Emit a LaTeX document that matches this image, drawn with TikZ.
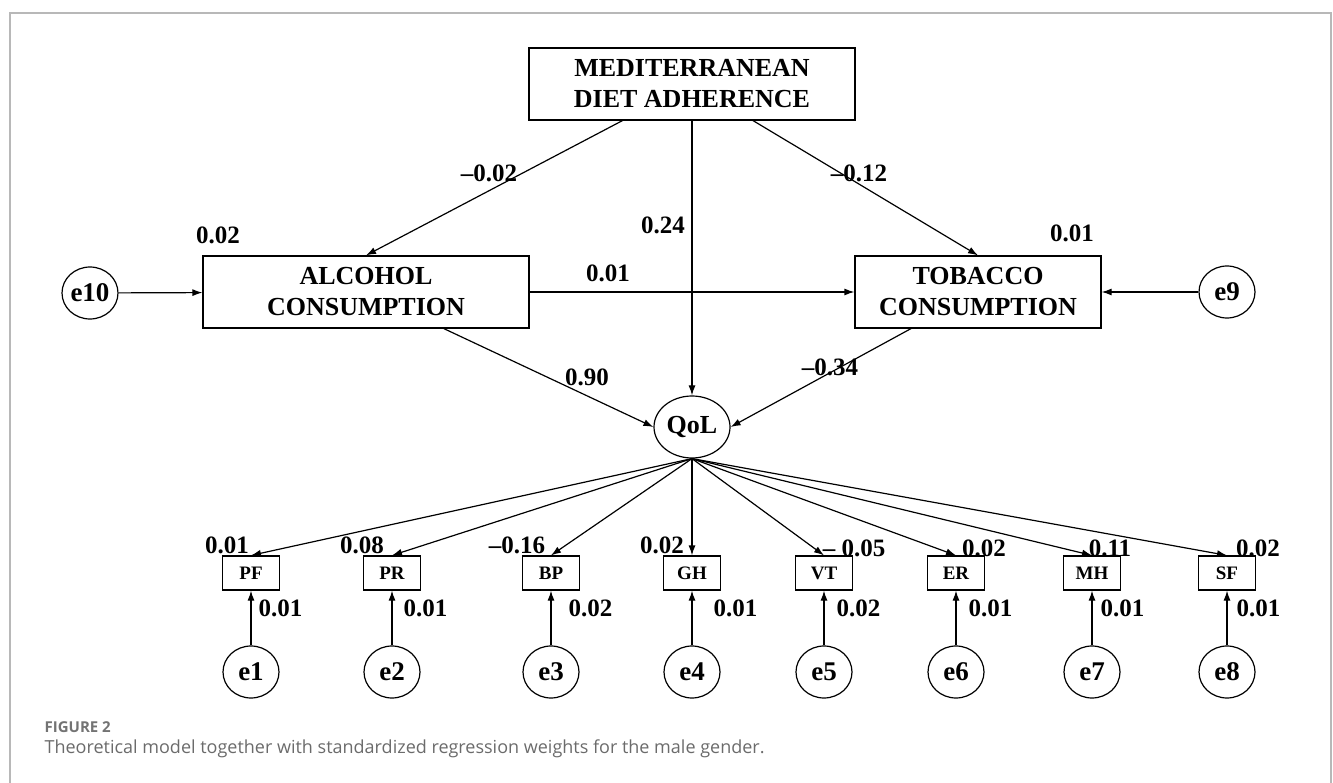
\documentclass[tikz,border=0pt]{standalone}
\usepackage{fontspec}
\setmainfont{Liberation Serif}
\newfontfamily\capfont{Open Sans}
\usetikzlibrary{arrows.meta,shapes.geometric,positioning}

\begin{document}
\begin{tikzpicture}[->,
            >={Latex[length=10pt,width=7pt]},
            x=1pt,y=-1pt,
            line width=1.2pt,
            construct/.style={draw,rectangle,minimum height=72pt,inner sep=0pt,
                              align=center,font=\fontsize{26}{31}\selectfont\bfseries},
            indicator/.style={draw,rectangle,minimum width=57pt,minimum height=34pt,
                              inner sep=0pt,font=\fontsize{19}{19}\selectfont\bfseries},
            latent/.style={draw,ellipse,minimum width=76pt,minimum height=62pt,
                           inner sep=0pt,font=\fontsize{26}{26}\selectfont\bfseries},
            error/.style={draw,ellipse,minimum width=56pt,minimum height=52pt,
                          inner sep=0pt,font=\fontsize{27}{27}\selectfont\bfseries},
            coef/.style={inner sep=0pt,font=\fontsize{25}{25}\selectfont\bfseries}]

        \useasboundingbox (0,0) rectangle (1333,783);
        \draw[-,line width=1.5pt,black!28] (10,783) -- (10,13) -- (1331,13) -- (1331,783);

        % structural part
        \node[construct,minimum width=326pt] (mda)     at (692,84)  {MEDITERRANEAN\\DIET ADHERENCE};
        \node[construct,minimum width=326pt] (alcohol) at (366,292) {ALCOHOL\\CONSUMPTION};
        \node[construct,minimum width=246pt] (tobacco) at (978,292) {TOBACCO\\CONSUMPTION};
        \node[error]                         (e10)     at (90,293)  {e10};
        \node[error]                         (e9)      at (1227,292) {e9};
        \node[latent]                        (qol)     at (692,427) {QoL};

        % measurement part
        \node[indicator] (pf) at (251,573)  {PF};
        \node[indicator] (pr) at (392,573)  {PR};
        \node[indicator] (bp) at (551,573)  {BP};
        \node[indicator] (gh) at (692,573)  {GH};
        \node[indicator] (vt) at (824,573)  {VT};
        \node[indicator] (er) at (956,573)  {ER};
        \node[indicator] (mh) at (1092,573) {MH};
        \node[indicator] (sf) at (1227,573) {SF};

        \node[error] (e1) at (251,672)  {e1};
        \node[error] (e2) at (392,672)  {e2};
        \node[error] (e3) at (551,672)  {e3};
        \node[error] (e4) at (692,672)  {e4};
        \node[error] (e5) at (824,672)  {e5};
        \node[error] (e6) at (956,672)  {e6};
        \node[error] (e7) at (1092,672) {e7};
        \node[error] (e8) at (1227,672) {e8};

        \path (mda)     edge (alcohol.north)
                        edge (tobacco.north)
                        edge (qol.north)
              (alcohol) edge (tobacco)
                        edge (qol.west)
              (tobacco) edge (qol.east)
              (e10)     edge (alcohol)
              (e9)      edge (tobacco)
              (qol.south) edge (pf.north)
                          edge (pr.north)
                          edge (bp.north)
                          edge (gh.north)
                          edge (vt.north)
                          edge (er.north)
                          edge (mh.north)
                          edge (sf.north)
              (e1) edge (pf) (e2) edge (pr) (e3) edge (bp) (e4) edge (gh)
              (e5) edge (vt) (e6) edge (er) (e7) edge (mh) (e8) edge (sf);

        % weights
        \node[coef] (w_ma)  at (489,173)  {–0.02};
        \node[coef] (w_mt)  at (859,173)  {–0.12};
        \node[coef] (w_mq)  at (663,225)  {0.24};
        \node[coef] (w_at)  at (608,273)  {0.01};
        \node[coef] (w_aq)  at (587,377)  {0.90};
        \node[coef] (w_tq)  at (830,367)  {–0.34};
        \node[coef] (r_alc) at (218,235)  {0.02};
        \node[coef] (r_tob) at (1072,233) {0.01};

        \node[coef] (w_pf) at (227,545)  {0.01};
        \node[coef] (w_pr) at (362,545)  {0.08};
        \node[coef] (w_bp) at (517,545)  {–0.16};
        \node[coef] (w_gh) at (662,545)  {0.02};
        \node[coef] (w_vt) at (854,548)  {– 0.05};
        \node[coef] (w_er) at (984,548)  {0.02};
        \node[coef] (w_mh) at (1110,548) {0.11};
        \node[coef] (w_sf) at (1258,548) {0.02};

        \node[coef,anchor=west] (r_pf) at (258,608)  {0.01};
        \node[coef,anchor=west] (r_pr) at (403,608)  {0.01};
        \node[coef,anchor=west] (r_bp) at (568,608)  {0.02};
        \node[coef,anchor=west] (r_gh) at (713,608)  {0.01};
        \node[coef,anchor=west] (r_vt) at (836,608)  {0.02};
        \node[coef,anchor=west] (r_er) at (968,608)  {0.01};
        \node[coef,anchor=west] (r_mh) at (1100,608) {0.01};
        \node[coef,anchor=west] (r_sf) at (1236,608) {0.01};

        % caption
        \node[anchor=west,inner sep=0pt,text=black!55,font=\capfont\bfseries\fontsize{15}{15}\selectfont]
              (fig) at (44,727) {FIGURE 2};
        \node[anchor=west,inner sep=0pt,text=black!58,font=\capfont\fontsize{18}{18}\selectfont]
              (caption) at (44,749) {Theoretical model together with standardized regression weights for the male gender.};

    \end{tikzpicture}
\end{document}
